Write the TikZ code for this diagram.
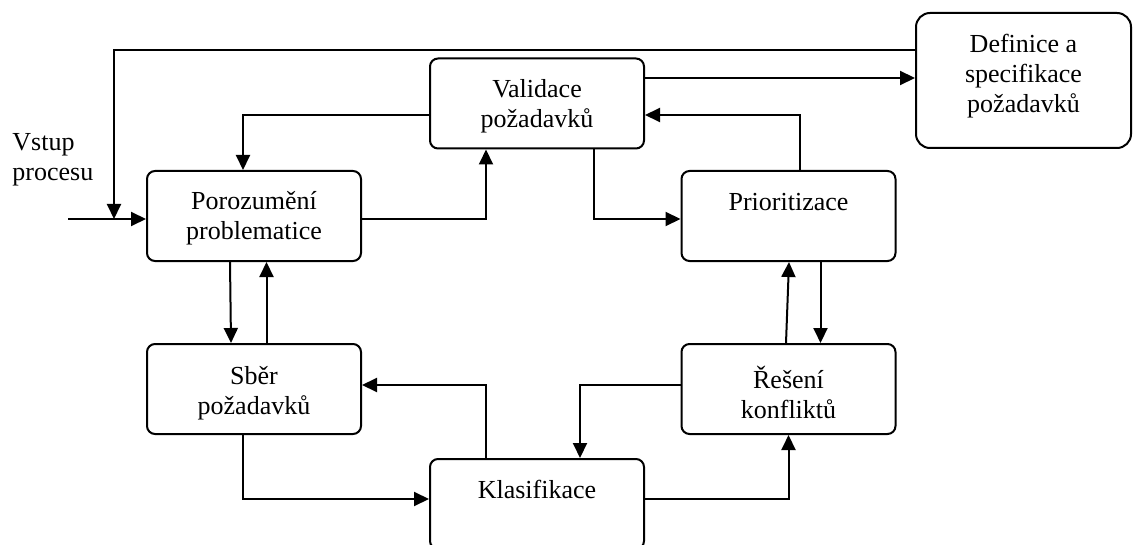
\documentclass[tikz,border=0pt]{standalone}
\usepackage{fontspec}
\setmainfont{Liberation Serif}
\usetikzlibrary{arrows.meta,calc}
\begin{document}
\begin{tikzpicture}[x=0.5pt,y=-0.5pt,
  box/.style={draw,line width=1pt,rounded corners=4pt,minimum width=107pt,minimum height=45pt,inner sep=0pt},
  bigbox/.style={box,rounded corners=7pt,minimum width=107.5pt,minimum height=67.5pt},
  txt/.style={align=center,inner sep=0pt,font=\fontsize{13pt}{15pt}\selectfont},
  arr/.style={line width=1pt,-{Triangle[length=7.5pt,width=7pt]}}]
\useasboundingbox (0,0) rectangle (1133,545);
\clip (0,0) rectangle (1133,545);

% process boxes
\node[box] (poro) at (254,216) {};
\node[box] (vali) at (537,103.5) {};
\node[bigbox] (defi) at (1023.5,80.5) {};
\node[box] (prio) at (788.5,216) {};
\node[box] (sber) at (254,389) {};
\node[box] (resi) at (788.5,389) {};
\node[box] (klas) at (537,504) {};

% box captions
\node[txt] (poro-t) at (254,218) {Porozumění\\problematice};
\node[txt] (vali-t) at (537,106) {Validace\\požadavků};
\node[txt] (defi-t) at (1023.5,76) {Definice a\\specifikace\\požadavků};
\node[txt] (prio-t) at (788.5,202) {Prioritizace};
\node[txt] (sber-t) at (254,393) {Sběr\\požadavků};
\node[txt] (resi-t) at (788.5,392) {Řešení\\konfliktů};
\node[txt] (klas-t) at (537,489) {Klasifikace};
\node[txt,align=left,anchor=west] (vstup) at (12,159.5) {Vstup\\procesu};

% process input and feedback from the specification
\coordinate (in) at (68,219);
\coordinate (fbtop) at (114,50);
\draw[arr] (in) -- (poro.west|-in);
\draw[arr] (defi.west|-fbtop) -- (fbtop) -- (fbtop|-in);

% connections around the cycle
\draw[arr] ($(vali.west)+(0,11.5)$) -| ($(poro.north)+(-11,0)$);
\draw[arr] ($(poro.east)+(0,3)$) -| ($(vali.south)+(-51,0)$);
\draw[arr] ($(vali.east)+(0,-25.5)$) coordinate (v2d) -- (defi.west|-v2d);
\draw[arr] ($(prio.north)+(11.5,0)$) |- ($(vali.east)+(0,11.5)$);
\draw[arr] ($(vali.south)+(57,0)$) |- ($(prio.west)+(0,3)$);
\draw[arr] ($(poro.south)+(-24,0)$) -- ($(sber.north)+(-23,0)$);
\draw[arr] ($(sber.north)+(12.5,0)$) -- ($(poro.south)+(12.5,0)$);
\draw[arr] ($(klas.north)+(-51,0)$) |- ($(sber.east)+(0,-4)$);
\draw[arr] ($(sber.south)+(-11,0)$) |- ($(klas.west)+(0,-5)$);
\draw[arr] ($(resi.west)+(0,-4)$) -| ($(klas.north)+(43,0)$);
\draw[arr] ($(klas.east)+(0,-5)$) -| (resi.south);
\draw[arr] ($(resi.north)+(-2.5,0)$) -- ($(prio.south)+(0.5,0)$);
\draw[arr] ($(prio.south)+(32,0)$) -- ($(resi.north)+(32,0)$);
\end{tikzpicture}
\end{document}
